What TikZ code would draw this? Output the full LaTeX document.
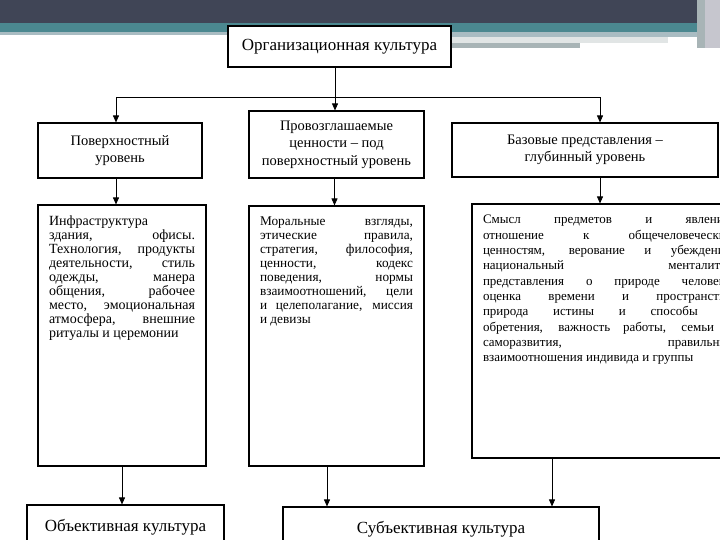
\documentclass[tikz,border=0pt]{standalone}
\usepackage{fontspec}
\setmainfont{Liberation Serif}
\usetikzlibrary{positioning, arrows.meta}
\definecolor{headdark}{HTML}{404556}
\definecolor{headteal}{HTML}{4B8890}
\definecolor{headpale}{HTML}{A9BCC2}
\definecolor{headgray}{HTML}{A8B4B6}
\definecolor{headside}{HTML}{C6C6CE}
\newcommand{\paneltext}[3]{\parbox[c][#1][t]{#2}{\hyphenpenalty=10000\emergencystretch=3em #3}}

\begin{document}
\begin{tikzpicture}[x=1pt, y=-1pt,
 box/.style={draw, line width=1.1pt, inner sep=0pt, align=center, fill=white,
   font=\fontsize{14.5}{17.5}\selectfont},
 title/.style={box, font=\fontsize{17}{20}\selectfont},
 panel/.style={draw, line width=1.1pt, inner xsep=11pt, inner ysep=11pt},
 arr/.style={-{Triangle[length=7pt,width=6pt]}, line width=0.8pt}]
\useasboundingbox (0,0) rectangle (720,540);
\clip (0,0) rectangle (720,540);

% header band
\fill[headdark] (0,0) rectangle (720,23);
\fill[headteal] (0,23) rectangle (697,32);
\fill[headpale] (0,32) rectangle (228,35);
\fill[headpale] (452,32) rectangle (697,37);
\fill[headgray!35] (452,37) rectangle (668,43);
\fill[headgray] (452,43) rectangle (580,48);
\fill[headgray] (697,0) rectangle (705,48);
\fill[headside] (705,0) rectangle (720,48);

% levels
\node[title, minimum width=223pt, minimum height=41pt] (org) at (339.5,46.5) {Организационная культура};
\node[box, minimum width=164pt, minimum height=55pt] (surf) at (120,150.5) {Поверхностный\\уровень};
\node[box, minimum width=175pt, minimum height=67pt] (decl) at (336.5,144.5) {Провозглашаемые\\ценности – под\\поверхностный уровень};
\node[box, minimum width=266pt, minimum height=54pt] (base) at (585,150) {Базовые представления –\\глубинный уровень};

% contents
\node[panel] (infra) at (122,335.5) {\paneltext{239pt}{146pt}{\fontsize{14}{14}\selectfont
Инфраструктура\newline здания, офисы.\linebreak Технология, продукты\linebreak деятельности, стиль\linebreak одежды, манера\linebreak общения, рабочее\linebreak место, эмоциональная\linebreak атмосфера, внешние\linebreak ритуалы и церемонии}};
\node[panel] (values) at (336.5,336) {\paneltext{238pt}{153pt}{\fontsize{13.3}{14}\selectfont
Моральные взгляды,\linebreak этические правила,\linebreak стратегия, философия,\linebreak ценности, кодекс\linebreak поведения, нормы\linebreak взаимоотношений, цели\linebreak и целеполагание, миссия\linebreak и девизы}};
\node[panel] (meaning) at (608.5,331) {\paneltext{232pt}{251pt}{\fontsize{13}{15.3}\selectfont
Смысл предметов и явлений,\linebreak отношение к общечеловеческим\linebreak ценностям, верование и убеждения,\linebreak национальный менталитет,\linebreak представления о природе человека,\linebreak оценка времени и пространства,\linebreak природа истины и способы ее\linebreak обретения, важность работы, семьи и\linebreak саморазвития, правильные\linebreak взаимоотношения индивида и группы}};

% results
\node[title, minimum width=197pt, minimum height=45pt] (obj) at (125.5,527.5) {Объективная культура};
\node[title, minimum width=316pt, minimum height=45pt] (subj) at (441,529.5) {Субъективная культура};

\coordinate (bus) at (335,97);
\draw[line width=0.8pt] (bus |- org.south) -- (bus);
\draw[arr] (bus) -| ([xshift=-4pt]surf.north);
\draw[arr] (bus) -- (bus |- decl.north);
\draw[arr] (bus) -| ([xshift=15pt]base.north);

\draw[arr] ([xshift=-4pt]surf.south) -- ([xshift=-4pt]surf.south |- infra.north);
\draw[arr] ([xshift=-2pt]decl.south) -- ([xshift=-2pt]decl.south |- values.north);
\draw[arr] ([xshift=15pt]base.south) -- ([xshift=15pt]base.south |- meaning.north);

\draw[arr] (infra.south) -- (infra.south |- obj.north);
\draw[arr] ([xshift=-9.5pt]values.south) -- ([xshift=-9.5pt]values.south |- subj.north);
\draw[arr] ([xshift=-56.5pt]meaning.south) -- ([xshift=-56.5pt]meaning.south |- subj.north);

\end{tikzpicture}
\end{document}
